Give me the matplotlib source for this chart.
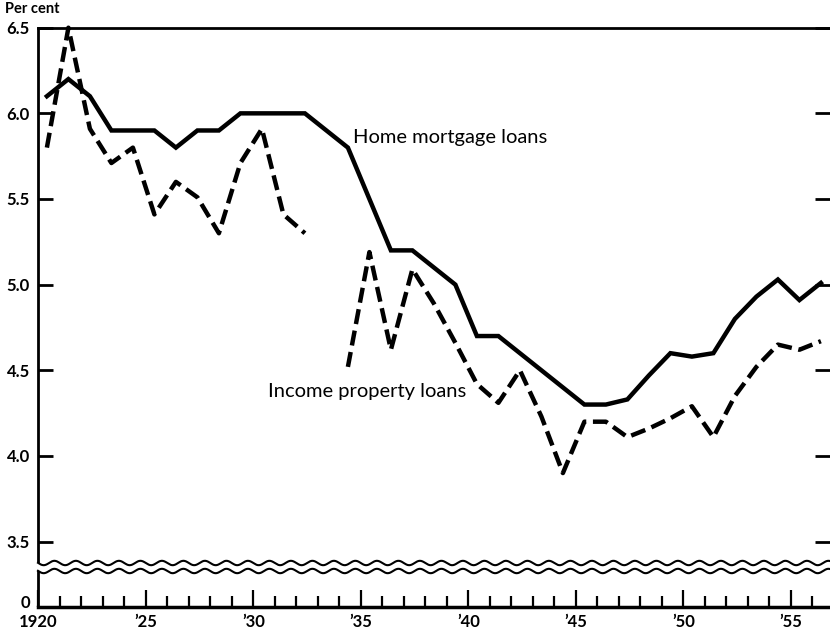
import numpy as np
import matplotlib
matplotlib.use("Agg")
import matplotlib.pyplot as plt
from matplotlib.patches import Polygon

plt.rcParams["font.family"] = ["Lato", "DejaVu Sans"]

years = list(range(1920, 1957))
home_mortgage = [6.10, 6.20, 6.10, 5.90, 5.90, 5.90, 5.80, 5.90, 5.90, 6.00,
                 6.00, 6.00, 6.00, 5.90, 5.80, 5.50, 5.20, 5.20, 5.10, 5.00,
                 4.70, 4.70, 4.60, 4.50, 4.40, 4.30, 4.30, 4.33, 4.47, 4.60,
                 4.58, 4.60, 4.80, 4.93, 5.03, 4.91, 5.01]
income_property = [5.80, 6.50, 5.91, 5.71, 5.80, 5.41, 5.60, 5.51, 5.30, 5.71,
                   5.91, 5.41, 5.30, np.nan, 4.52, 5.19, 4.62, 5.09, 4.89, 4.66,
                   4.42, 4.31, 4.50, 4.23, 3.90, 4.20, 4.20, 4.11, 4.16, 4.22,
                   4.29, 4.11, 4.35, 4.52, 4.65, 4.62, 4.67]
y_ticks = [3.5, 4.0, 4.5, 5.0, 5.5, 6.0, 6.5]
major_years = [1920, 1925, 1930, 1935, 1940, 1945, 1950, 1955]
major_labels = ["1920", "\u201925", "\u201930", "\u201935", "\u201940", "\u201945", "\u201950", "\u201955"]

W, H = 830, 633
fig = plt.figure(figsize=(8.3, 6.33), dpi=100)

x0 = 38.3
px_per_year = 21.5
px_per_unit = 171.3
xmax = 1920 + (W - x0) / px_per_year
offset = 0.4  # points sit a little past the year tick

top_px, bot_px = 27.7, 607
ax = fig.add_axes([x0 / W, 1 - bot_px / H, 1 - x0 / W, (bot_px - top_px) / H])
ybot = 6.5 - (bot_px - top_px) / px_per_unit
y_zero = 6.5 - (601 - top_px) / px_per_unit  # where the broken scale puts 0
ax.set_xlim(1920, xmax)
ax.set_ylim(ybot, 6.5)

x = np.array(years) + offset
ax.plot(x, home_mortgage, color="black", lw=3.2, solid_joinstyle="miter", clip_on=False)
ax.plot(x, income_property, color="black", lw=3.2, ls=(0, (3.4, 1.5)), clip_on=False)

ax.spines["right"].set_visible(False)
ax.spines["left"].set_linewidth(2)
ax.spines["top"].set_linewidth(2)
ax.spines["bottom"].set_linewidth(2.5)
ax.spines["bottom"].set_color("black")

ax.set_yticks([y_zero] + y_ticks)
ax.set_yticklabels(["0"] + [f"{v:.1f}" for v in y_ticks], fontsize=12, fontweight="bold")
ax.tick_params(axis="y", direction="in", length=11, width=2, pad=6,
               right=True, left=True)
t0 = ax.yaxis.get_major_ticks()[0]
t0.tick1line.set_visible(False)
t0.tick2line.set_visible(False)

ax.set_xticks(major_years)
ax.set_xticklabels(major_labels, fontsize=12, fontweight="bold")
ax.set_xticks(years, minor=True)
ax.tick_params(axis="x", which="major", direction="in", length=12, width=1.6, pad=5, color="black")
ax.tick_params(axis="x", which="minor", direction="in", length=8, width=1.6, color="black")

ax.text(1934.64, 5.86, "Home mortgage loans", fontsize=14.5, va="center", ha="left")
ax.text(1930.68, 4.375, "Income property loans", fontsize=14.5, va="center", ha="left")

fig.text(5 / W, 1 - 9 / H, "Per cent", fontsize=10.5, fontweight="bold", va="center", ha="left")

# scale break: white band between two wavy lines
xs = np.linspace(1920 - 0.2, xmax, 1200)
waves = []
for yc in [563, 571]:
    ys = yc + 2.2 * np.sin((xs - 1920) * 2 * np.pi)
    waves.append(6.5 - (ys - top_px) / px_per_unit)
band = np.vstack([np.column_stack([xs, waves[0]]),
                  np.column_stack([xs[::-1], waves[1][::-1]])])
ax.add_patch(Polygon(band, closed=True, facecolor="white", edgecolor="none",
                     zorder=5, clip_on=False))
for wv in waves:
    ax.plot(xs[xs >= 1919.97], wv[xs >= 1919.97], color="black", lw=1.5,
            zorder=6, clip_on=False)

fig.savefig("out.png", dpi=100)
